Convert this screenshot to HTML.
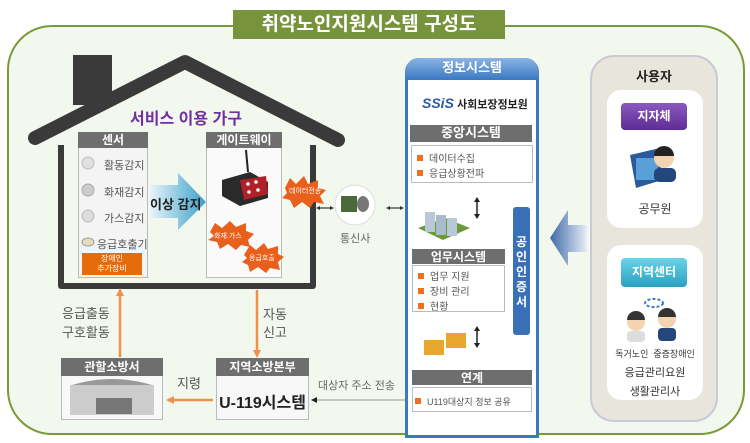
<!DOCTYPE html>
<html><head><meta charset="utf-8"><style>
*{margin:0;padding:0;box-sizing:border-box}
body{width:750px;height:443px;background:#fff;font-family:"Liberation Sans","Noto Sans CJK KR",sans-serif;position:relative;overflow:hidden;color:#444}
.a{position:absolute}
.hd{position:absolute;background:#6e6e6e;color:#fff;font-weight:bold;font-size:12px;text-align:center;line-height:16px}
.t{position:absolute;font-size:11px;color:#555;white-space:nowrap;z-index:6}
.sq{display:inline-block;width:6px;height:6px;background:#f07020;margin-right:6px;vertical-align:1px}
</style></head><body>
<div class="a" style="left:7px;top:25px;width:738px;height:410px;border:2px solid #7a9a3a;border-radius:45px;background:#f3f8ee"></div>
<div class="a" style="left:233px;top:10px;width:272px;height:29px;background:#77933c;color:#fff;font-size:19px;font-weight:bold;text-align:center;line-height:29px">취약노인지원시스템 구성도</div>

<div class="a" style="left:78px;top:132px;width:70px;height:146px;border:1px solid #bbb;background:#f4f4f4"></div>
<div class="a" style="left:206px;top:132px;width:76px;height:146px;border:1px solid #bbb;background:#fafafa"></div>
<div class="a" style="left:405px;top:58px;width:134px;height:380px;border:3px solid #3a78c2;border-radius:14px 14px 0 0;background:#fff"></div>
<div class="a" style="left:590px;top:55px;width:128px;height:367px;background:#e8e5dc;border:2px solid #cdc8d8;border-radius:24px"></div>
<div class="a" style="left:607px;top:90px;width:96px;height:138px;background:#fff;border-radius:14px"></div>
<div class="a" style="left:607px;top:245px;width:96px;height:155px;background:#fff;border-radius:14px"></div>
<div class="a" style="left:61px;top:358px;width:102px;height:62px;border:1px solid #bbb;background:#f8f8f8"></div>
<div class="a" style="left:216px;top:358px;width:93px;height:62px;border:1px solid #bbb;background:#f8f8f8"></div>

<svg class="a" style="left:0;top:0;z-index:5" width="750" height="443">
<rect x="73" y="55" width="39" height="50" fill="#3a3a3a"/>
<polyline points="35,138 185,62 338,140" fill="none" stroke="#3a3a3a" stroke-width="14" stroke-linecap="round" stroke-linejoin="round"/>
<polyline points="61,145 61,286 313,286 313,145" fill="none" stroke="#3a3a3a" stroke-width="6" stroke-linejoin="round"/>
<defs><linearGradient id="bg" x1="0" x2="1"><stop offset="0" stop-color="#e8f4fa"/><stop offset="1" stop-color="#3aa0c8"/></linearGradient>
<linearGradient id="bl" x1="0" x2="1"><stop offset="0" stop-color="#3e6aa8"/><stop offset="1" stop-color="#e8eef6"/></linearGradient></defs>
<polygon points="150,185 178,185 178,173 206,202 178,230 178,218 150,218" fill="url(#bg)"/>
<polygon points="285,188 290,178 296,184 304,176 308,184 318,180 318,188 326,190 320,196 324,204 314,202 310,208 302,202 294,208 290,200 282,198 287,193" fill="#e8601c"/>
<polygon points="210,232 215,223 222,228 230,221 236,227 246,223 246,231 254,234 248,240 250,247 241,245 236,250 228,244 220,249 217,242 208,240 214,236" fill="#e8601c"/>
<polygon points="244,255 250,245 256,250 264,243 268,249 278,246 278,254 284,257 278,262 280,270 270,268 266,273 258,267 250,272 248,265 242,262 247,258" fill="#e8601c"/>
<circle cx="355" cy="205" r="20" fill="#fff" stroke="#ddd"/>
<rect x="341" y="196" width="16" height="16" fill="#4a6a3a"/><ellipse cx="363" cy="204" rx="6" ry="8" fill="#777"/>
<g stroke="#333" stroke-width="1.2"><line x1="318" y1="208" x2="332" y2="208"/><line x1="388" y1="208" x2="402" y2="208"/></g>
<g fill="#333"><polygon points="316,208 320,206 320,210"/><polygon points="334,208 330,206 330,210"/><polygon points="386,208 390,206 390,210"/><polygon points="404,208 400,206 400,210"/></g>
<!-- sensors -->
<circle cx="88" cy="163" r="6" fill="#e0e0e0" stroke="#bbb"/><circle cx="88" cy="190" r="6" fill="#ccc" stroke="#aaa"/><circle cx="88" cy="216" r="6" fill="#ddd" stroke="#bbb"/>
<ellipse cx="88" cy="242" rx="6" ry="4" fill="#e8dcc0" stroke="#999"/>
<!-- router -->
<polygon points="222,180 250,172 268,182 268,198 240,206 222,196" fill="#2a2a2a"/>
<polygon points="240,180 266,176 268,194 244,200" fill="#b02028"/>
<g fill="#fff"><circle cx="248" cy="184" r="1.8"/><circle cx="256" cy="182" r="1.8"/><circle cx="249" cy="192" r="1.8"/><circle cx="258" cy="190" r="1.8"/></g>
<line x1="248" y1="172" x2="246" y2="150" stroke="#222" stroke-width="2"/>
<polygon points="550,238 568,210 568,225 587,225 587,252 568,252 568,266" fill="url(#bl)"/>
<!-- bottom arrows -->
<g stroke="#f0904a" stroke-width="2.5"><line x1="120" y1="292" x2="120" y2="357"/><line x1="257" y1="290" x2="257" y2="352"/><line x1="171" y1="400" x2="213" y2="400"/></g>
<polygon points="120,288 116,296 124,296" fill="#f0904a"/><polygon points="257,358 253,350 261,350" fill="#f0904a"/><polygon points="166,400 174,396 174,404" fill="#f0904a"/>
<line x1="316" y1="400" x2="405" y2="400" stroke="#999" stroke-width="1"/><polygon points="311,400 317,397 317,403" fill="#222"/>
<g stroke="#222" stroke-width="1.5"><line x1="477" y1="200" x2="477" y2="216"/><line x1="477" y1="329" x2="477" y2="345"/></g>
<g fill="#222"><polygon points="477,197 474,202 480,202"/><polygon points="477,219 474,214 480,214"/><polygon points="477,326 474,331 480,331"/><polygon points="477,348 474,343 480,343"/></g>
<!-- buildings -->
<polygon points="418,228 445,218 470,228 443,240" fill="#6a9a3a"/>
<rect x="425" y="212" width="10" height="20" fill="#b8c8d8"/><rect x="436" y="215" width="10" height="20" fill="#a8bccc"/><rect x="447" y="218" width="10" height="18" fill="#b8c8d8"/>
<rect x="424" y="340" width="20" height="15" fill="#e8a830"/><rect x="446" y="333" width="20" height="15" fill="#e8a830"/>
<!-- people -->
<polygon points="630,155 660,148 662,180 636,188" fill="#2b5a9a"/><rect x="636" y="158" width="22" height="22" fill="#5aa0d8"/>
<circle cx="664" cy="158" r="10" fill="#f4d4b0"/><path d="M654,156 a10,10 0 0 1 20,0 z" fill="#222"/><rect x="654" y="168" width="22" height="14" rx="5" fill="#24467a"/>
<ellipse cx="654" cy="303" rx="9" ry="4" fill="none" stroke="#3a7ac8" stroke-width="2" stroke-dasharray="3,2"/>
<circle cx="636" cy="322" r="9" fill="#f4d4b0"/><path d="M627,320 a9,9 0 0 1 18,0 z" fill="#333"/><rect x="627" y="331" width="18" height="11" rx="4" fill="#ddd"/>
<circle cx="667" cy="319" r="9" fill="#f4d4b0"/><path d="M658,317 a9,9 0 0 1 18,0 z" fill="#333"/><rect x="658" y="328" width="18" height="13" rx="4" fill="#24467a"/>
<!-- fire station -->
<rect x="70" y="385" width="84" height="30" fill="#ccc"/><path d="M72,385 q40,-12 80,0z" fill="#999"/><rect x="96" y="398" width="36" height="16" fill="#777"/>
</svg>

<div class="a" style="left:130px;top:105px;font-size:16px;font-weight:bold;color:#7030a0;z-index:6">서비스 이용 가구</div>
<div class="hd" style="left:78px;top:132px;width:70px;z-index:6">센서</div>
<div class="t" style="left:104px;top:157px">활동감지</div>
<div class="t" style="left:104px;top:184px">화재감지</div>
<div class="t" style="left:104px;top:210px">가스감지</div>
<div class="t" style="left:97px;top:236px">응급호출기</div>
<div class="a" style="left:82px;top:253px;width:60px;height:22px;background:#e46c0a;color:#fff;font-size:8px;text-align:center;line-height:10px;padding-top:1px;z-index:6">장애인<br>추가장비</div>
<div class="a" style="left:150px;top:194px;font-size:13px;font-weight:bold;color:#222;z-index:6">이상 감지</div>
<div class="hd" style="left:206px;top:132px;width:76px;z-index:6">게이트웨이</div>
<div class="t" style="left:289px;top:186px;font-size:7px;color:#fff">데이터전송</div>
<div class="t" style="left:214px;top:231px;font-size:7px;color:#fff">화재.가스</div>
<div class="t" style="left:249px;top:253px;font-size:7px;color:#fff">응급호출</div>
<div class="t" style="left:340px;top:230px;font-size:11px;color:#666">통신사</div>

<div class="a" style="left:405px;top:58px;width:134px;height:22px;border-radius:14px 14px 0 0;background:linear-gradient(#8ab4e4,#3a78c2);color:#fff;font-weight:bold;font-size:13px;text-align:center;line-height:20px;z-index:6">정보시스템</div>
<div class="a" style="left:422px;top:95px;font-size:14px;font-weight:bold;color:#2a5aa8;font-style:italic;z-index:6">SSiS<span style="font-size:11px;color:#222;font-style:normal"> 사회보장정보원</span></div>
<div class="hd" style="left:410px;top:125px;width:122px;height:17px;font-size:13px;z-index:6">중앙시스템</div>
<div class="a" style="left:411px;top:145px;width:122px;height:38px;border:1px solid #bbb"></div>
<div class="t" style="left:417px;top:150px;font-size:10px"><span class="sq"></span>데이터수집</div>
<div class="t" style="left:417px;top:165px;font-size:10px"><span class="sq"></span>응급상황전파</div>
<div class="hd" style="left:412px;top:249px;width:93px;height:15px;font-size:12px;z-index:6">업무시스템</div>
<div class="a" style="left:412px;top:265px;width:93px;height:47px;border:1px solid #bbb"></div>
<div class="t" style="left:418px;top:268px;font-size:10px"><span class="sq"></span>업무 지원</div>
<div class="t" style="left:418px;top:283px;font-size:10px"><span class="sq"></span>장비 관리</div>
<div class="t" style="left:418px;top:298px;font-size:10px"><span class="sq"></span>현황</div>
<div class="a" style="left:513px;top:207px;width:17px;height:128px;background:#3a70b8;border-radius:3px;color:#fff;font-size:12px;font-weight:bold;text-align:center;line-height:15px;padding-top:28px;z-index:6">공<br>인<br>인<br>증<br>서</div>
<div class="hd" style="left:412px;top:370px;width:120px;height:15px;font-size:12px;z-index:6">연계</div>
<div class="a" style="left:412px;top:387px;width:120px;height:25px;border:1px solid #bbb"></div>
<div class="t" style="left:415px;top:395px;font-size:9px"><span class="sq"></span>U119대상지 정보 공유</div>

<div class="a" style="left:590px;top:66px;width:128px;text-align:center;font-weight:bold;font-size:13px;color:#222;z-index:6">사용자</div>
<div class="a" style="left:621px;top:103px;width:66px;height:27px;background:linear-gradient(#8a5ac0,#5e2c94);border-radius:4px;color:#fff;font-weight:bold;font-size:12px;text-align:center;line-height:27px;z-index:6">지자체</div>
<div class="a" style="left:607px;top:200px;width:96px;text-align:center;font-size:12px;color:#333;z-index:6">공무원</div>
<div class="a" style="left:621px;top:258px;width:66px;height:29px;background:linear-gradient(#6ad4e8,#2aa0c0);border-radius:4px;color:#fff;font-weight:bold;font-size:12px;text-align:center;line-height:29px;z-index:6">지역센터</div>
<div class="a" style="left:607px;top:347px;width:96px;text-align:center;font-size:9px;color:#333;z-index:6">독거노인&nbsp; 중증장애인</div>
<div class="a" style="left:607px;top:364px;width:96px;text-align:center;font-size:11px;color:#333;z-index:6">응급관리요원</div>
<div class="a" style="left:607px;top:383px;width:96px;text-align:center;font-size:11px;color:#333;z-index:6">생활관리사</div>

<div class="t" style="left:62px;top:303px;font-size:13px">응급출동</div>
<div class="t" style="left:62px;top:322px;font-size:13px">구호활동</div>
<div class="t" style="left:263px;top:304px;font-size:13px">자동</div>
<div class="t" style="left:263px;top:322px;font-size:13px">신고</div>
<div class="hd" style="left:61px;top:358px;width:102px;height:18px;line-height:18px;font-size:12px;z-index:6">관할소방서</div>
<div class="hd" style="left:216px;top:358px;width:93px;height:18px;line-height:18px;font-size:12px;z-index:6">지역소방본부</div>
<div class="a" style="left:216px;top:389px;width:93px;text-align:center;font-size:16px;font-weight:bold;color:#222;z-index:6">U-119시스템</div>
<div class="t" style="left:177px;top:373px;font-size:13px">지령</div>
<div class="t" style="left:318px;top:377px;font-size:11px;color:#666">대상자 주소 전송</div>
</body></html>
